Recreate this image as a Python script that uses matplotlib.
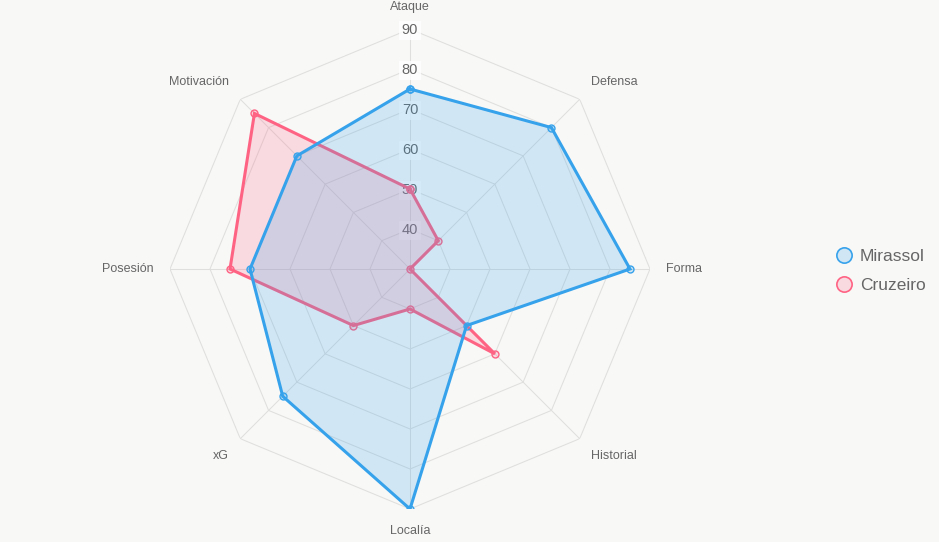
import numpy as np
import matplotlib
matplotlib.use("Agg")
import matplotlib.pyplot as plt
from matplotlib.lines import Line2D

plt.rcParams["font.family"] = ["Liberation Sans", "DejaVu Sans"]

categories = ["Ataque", "Defensa", "Forma", "Historial", "Localía", "xG", "Posesión", "Motivación"]
mirassol = [75, 80, 85, 50, 90, 75, 70, 70]
cruzeiro = [50, 40, 30, 60, 40, 50, 75, 85]
ticks = [40, 50, 60, 70, 80, 90]
r_min, r_max = 30, 90

BG = "#f8f8f7"
BLUE = "#36A2EB"
PINK = "#FF6384"
TXT = "#666666"
GRID = "#dfdfde"

fig = plt.figure(figsize=(9.39, 5.42), dpi=100, facecolor=BG)
ax = fig.add_axes([170 / 939, 33 / 542, 480 / 939, 480 / 542], projection="polar")
ax.set_facecolor("none")
ax.set_theta_zero_location("N")
ax.set_theta_direction(-1)
ax.set_ylim(r_min, r_max)
ax.grid(False)
ax.spines["polar"].set_visible(False)
ax.set_xticks([])
ax.set_yticks([])

n = len(categories)
theta = np.arange(n) * 2 * np.pi / n
tc = np.append(theta, theta[0])

# octagon grid + angle lines
for t in ticks:
    ax.plot(tc, [t] * (n + 1), color=GRID, lw=0.75, zorder=1)
for a in theta:
    ax.plot([a, a], [r_min, r_max], color=GRID, lw=0.75, zorder=1)

# tick labels with a light backdrop, under the datasets
for t in ticks:
    ax.text(0, t, str(t), ha="center", va="center_baseline", fontsize=10.5, color=TXT, zorder=2,
            bbox=dict(boxstyle="square,pad=0.2", fc=(1, 1, 1, 0.8), ec="none"))

# point labels
align = [("center", "bottom"), ("left", "bottom"), ("left", "center"), ("left", "top"),
         ("center", "top"), ("right", "top"), ("right", "center"), ("right", "bottom")]
for a, lab, (ha, va) in zip(theta, categories, align):
    ax.text(a, 94, lab, ha=ha, va=va, fontsize=9, color=TXT, clip_on=False)

for vals, col, z in [(cruzeiro, PINK, 3), (mirassol, BLUE, 4)]:
    v = np.append(vals, vals[0])
    ax.fill(tc, v, color=col, alpha=0.2, lw=0, zorder=z)
    ax.plot(tc, v, color=col, lw=2.2, solid_joinstyle="miter", zorder=z + 0.1,
            marker="o", ms=5, mfc=matplotlib.colors.to_rgba(col, 0.2), mec=col, mew=1)

handles = [Line2D([], [], ls="none", marker="o", ms=11, mfc=matplotlib.colors.to_rgba(c, 0.2),
                  mec=c, mew=1.2) for c in (BLUE, PINK)]
fig.legend(handles, ["Mirassol", "Cruzeiro"], loc="center left", bbox_to_anchor=(820 / 939, 0.5),
           frameon=False, fontsize=12.5, labelcolor=TXT, handlelength=1.0, handletextpad=0.4,
           labelspacing=0.75)

fig.savefig("out.png", dpi=100, facecolor=BG)
